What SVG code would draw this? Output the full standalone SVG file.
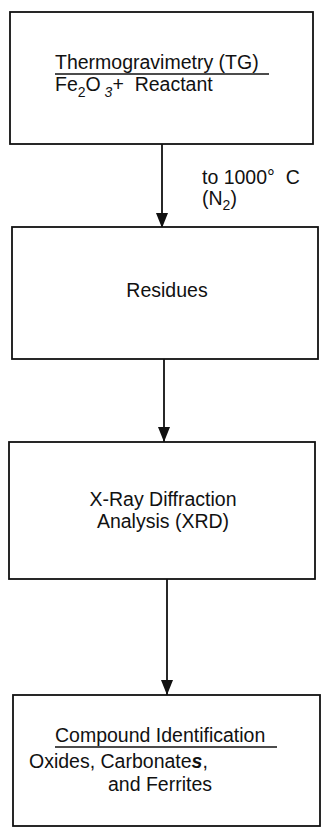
<svg xmlns="http://www.w3.org/2000/svg" width="321" height="828" viewBox="0 0 321 828">
<defs>
<marker id="ah" viewBox="0 0 15 12" refX="15" refY="6" markerWidth="15" markerHeight="12" markerUnits="userSpaceOnUse" orient="auto">
<path d="M0,0 L15,6 L0,12 Z" fill="#111"/>
</marker>
</defs>
<style>
.box{fill:#fff;stroke:#111;stroke-width:1.8}
.t{font-family:"Liberation Sans",Arial,sans-serif;font-size:19.5px;fill:#111}
.c{text-anchor:middle}
.ul{stroke:#111;stroke-width:1.4}
.conn{stroke:#111;stroke-width:1.8;fill:none}
</style>
<rect width="321" height="828" fill="#fff"/>
<g id="connectors">
<line class="conn" x1="162" y1="144" x2="162" y2="228" marker-end="url(#ah)"/>
<line class="conn" x1="164" y1="359" x2="164" y2="442" marker-end="url(#ah)"/>
<line class="conn" x1="167" y1="579" x2="167" y2="695" marker-end="url(#ah)"/>
<text class="t" x="202" y="184" xml:space="preserve">to 1000°  C</text>
<text class="t" x="202" y="205">(N<tspan font-size="14" dy="5">2</tspan><tspan dy="-5">)</tspan></text>
</g>
<g id="tg">
<rect class="box" x="10" y="12" width="303" height="132"/>
<text class="t" x="55" y="69">Thermogravimetry (TG)</text>
<line class="ul" x1="55" y1="74" x2="269" y2="74"/>
<text class="t" x="55" y="91" xml:space="preserve">Fe<tspan font-size="14" dy="6">2</tspan><tspan dy="-6">O</tspan><tspan font-size="14" font-style="italic" dy="6"> 3</tspan><tspan dy="-6">+  Reactant</tspan></text>
</g>
<g id="residues">
<rect class="box" x="12" y="227" width="306" height="132"/>
<text class="t c" x="167" y="297">Residues</text>
</g>
<g id="xrd">
<rect class="box" x="9" y="442" width="306" height="137"/>
<text class="t c" x="163" y="506">X-Ray Diffraction</text>
<text class="t c" x="163" y="528">Analysis (XRD)</text>
</g>
<g id="compound">
<rect class="box" x="13" y="695" width="307" height="131"/>
<text class="t" x="55" y="742">Compound Identification</text>
<line class="ul" x1="55" y1="747" x2="277" y2="747"/>
<text class="t" x="29" y="768">Oxides, Carbonate<tspan font-weight="bold" font-style="italic">s</tspan>,</text>
<text class="t" x="108" y="791">and Ferrites</text>
</g>
</svg>
